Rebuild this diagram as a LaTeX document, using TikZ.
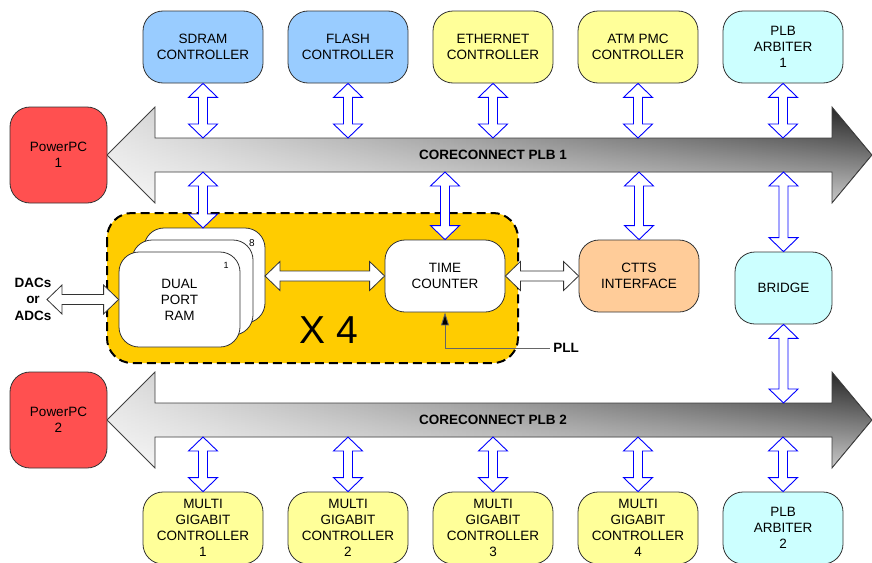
\documentclass[tikz,border=0pt]{standalone}
\usepackage{fontspec}
\setmainfont{Liberation Sans}
\usetikzlibrary{calc,arrows.meta,fadings}
\definecolor{cblue}{HTML}{99CCFF}
\definecolor{cyell}{HTML}{FFFF99}
\definecolor{ccyan}{HTML}{CCFFFF}
\definecolor{cred}{HTML}{FF5050}
\definecolor{cpeach}{HTML}{FFCC99}
\definecolor{cgold}{HTML}{FFCC00}
\tikzfading[name=busfade, top color=transparent!100, bottom color=transparent!25]
\newcommand\lbl{\fontsize{13.5}{16}\selectfont}
\newcommand\vdarr[2]{\draw[barrow] let \p1=(#1), \p2=(#2) in (\x1,\y1) -- (\x1+14.5pt,\y1-14pt) -- (\x1+4.5pt,\y1-14pt) -- (\x1+4.5pt,\y2+14pt) -- (\x1+14.5pt,\y2+14pt) -- (\x1,\y2) -- (\x1-14.5pt,\y2+14pt) -- (\x1-4.5pt,\y2+14pt) -- (\x1-4.5pt,\y1-14pt) -- (\x1-14.5pt,\y1-14pt) -- cycle;}
\newcommand\hdarr[2]{\draw[warrow] let \p1=(#1), \p2=(#2) in (\x1,\y1) -- (\x1+15pt,\y1+14.5pt) -- (\x1+15pt,\y1+5pt) -- (\x2-15pt,\y1+5pt) -- (\x2-15pt,\y1+14.5pt) -- (\x2,\y1) -- (\x2-15pt,\y1-14.5pt) -- (\x2-15pt,\y1-5pt) -- (\x1+15pt,\y1-5pt) -- (\x1+15pt,\y1-14.5pt) -- cycle;}
\newcommand\buspath[1]{(107,#1) -- (155,#1-48) -- (155,#1-17) -- (832,#1-17) -- (832,#1-48) -- (872,#1) -- (832,#1+48) -- (832,#1+17) -- (155,#1+17) -- (155,#1+48) -- cycle}
\newcommand\busshape[1]{%
  \path[busfill] \buspath{#1};
  \path[fill=white, path fading=busfade] \buspath{#1};
  \draw[draw=black!75, line width=0.8pt, line join=miter] \buspath{#1};}
\tikzset{
  blk/.style={draw=black!80, line width=0.8pt, rounded corners=20pt, minimum width=120pt, minimum height=72pt, align=center, font=\lbl, inner sep=0pt},
  ppc/.style={blk, fill=cred, minimum width=97pt, minimum height=96pt},
  barrow/.style={draw=blue, fill=white, line width=0.9pt, line join=miter},
  warrow/.style={draw=black!80, fill=white, line width=0.8pt, line join=miter},
  busfill/.style={left color=black!12, right color=black!88},
  ramb/.style={draw=black!80, fill=white, line width=0.8pt, rounded corners=20pt},
  bold/.style={font=\fontsize{13.5}{16}\selectfont\bfseries},
}
\begin{document}
\begin{tikzpicture}[x=1pt,y=-1pt]
\useasboundingbox (0,0) rectangle (872,562);
% buses
\busshape{155}
\busshape{420}
\node[bold] (bl1) at (493,155) {CORECONNECT PLB 1};
\node[bold] (bl2) at (493,420) {CORECONNECT PLB 2};
\coordinate (b1t) at (0,138);
\coordinate (b1b) at (0,172);
\coordinate (b2t) at (0,403);
\coordinate (b2b) at (0,437);
% top nodes
\node[blk, fill=cblue] (sdram) at (203,47) {SDRAM\\CONTROLLER};
\node[blk, fill=cblue] (flash) at (348,47) {FLASH\\CONTROLLER};
\node[blk, fill=cyell] (eth) at (493,47) {ETHERNET\\CONTROLLER};
\node[blk, fill=cyell] (atm) at (638,47) {ATM PMC\\CONTROLLER};
\node[blk, fill=ccyan] (arb1) at (783,47) {PLB\\ARBITER\\1};
\node[ppc] (ppc1) at (58.5,155) {PowerPC\\1};
\node[ppc] (ppc2) at (58.5,420) {PowerPC\\2};
% yellow group
\draw[fill=cgold, line width=2pt, dash pattern=on 9pt off 5pt, rounded corners=25pt] (107,213) rectangle (518,363);
\draw[ramb] (144,228) rectangle (265,323);
\node[font=\fontsize{10}{12}\selectfont] (n8) at (252,243) {8};
\draw[ramb] (132,240) rectangle (253,335);
\node[blk, fill=white, minimum width=121pt, minimum height=95pt] (ram) at (179.5,299.5) {DUAL\\PORT\\RAM};
\node[font=\fontsize{9}{11}\selectfont] (n1) at (226,265) {1};
\coordinate (ramback) at (265,276);
\coordinate (ramtop) at (203,228);
\node[blk, fill=white] (tc) at (445,276) {TIME\\COUNTER};
\node[font=\fontsize{39}{40}\selectfont] (x4) at (329,330) {X 4};
\node[blk, fill=cpeach] (ctts) at (639,276) {CTTS\\INTERFACE};
\node[blk, fill=ccyan, minimum width=97pt] (bridge) at (783.5,288) {BRIDGE};
\node[font=\fontsize{13.5}{16.5}\selectfont\bfseries, align=center] (dac) at (33,299) {DACs\\or\\ADCs};
\coordinate (dactip) at (47,299.5);
\node[bold] (pll) at (566,348) {PLL};
% bottom nodes
\node[blk, fill=cyell] (mg1) at (203,528) {MULTI\\GIGABIT\\CONTROLLER\\1};
\node[blk, fill=cyell] (mg2) at (348,528) {MULTI\\GIGABIT\\CONTROLLER\\2};
\node[blk, fill=cyell] (mg3) at (493,528) {MULTI\\GIGABIT\\CONTROLLER\\3};
\node[blk, fill=cyell] (mg4) at (638,528) {MULTI\\GIGABIT\\CONTROLLER\\4};
\node[blk, fill=ccyan] (arb2) at (783,528) {PLB\\ARBITER\\2};
% blue bus arrows
\foreach \nd in {sdram,flash,eth,atm,arb1}{\vdarr{\nd.south}{\nd.south |- b1t}}
\vdarr{ramtop |- b1b}{ramtop}
\vdarr{tc.north |- b1b}{tc.north}
\vdarr{ctts.north |- b1b}{ctts.north}
\vdarr{bridge.north |- b1b}{bridge.north}
\vdarr{bridge.south}{bridge.south |- b2t}
\foreach \nd in {mg1,mg2,mg3,mg4,arb2}{\vdarr{\nd.north |- b2b}{\nd.north}}
% white arrows
\hdarr{dactip}{ram.west}
\hdarr{ramback}{tc.west}
\hdarr{tc.east}{ctts.west}
% PLL
\draw[draw=black!60, line width=0.9pt, -{Triangle[length=13pt,width=8pt,fill=black]}] (pll.west) -- (pll.west -| tc.south) -- (tc.south);
\end{tikzpicture}
\end{document}
